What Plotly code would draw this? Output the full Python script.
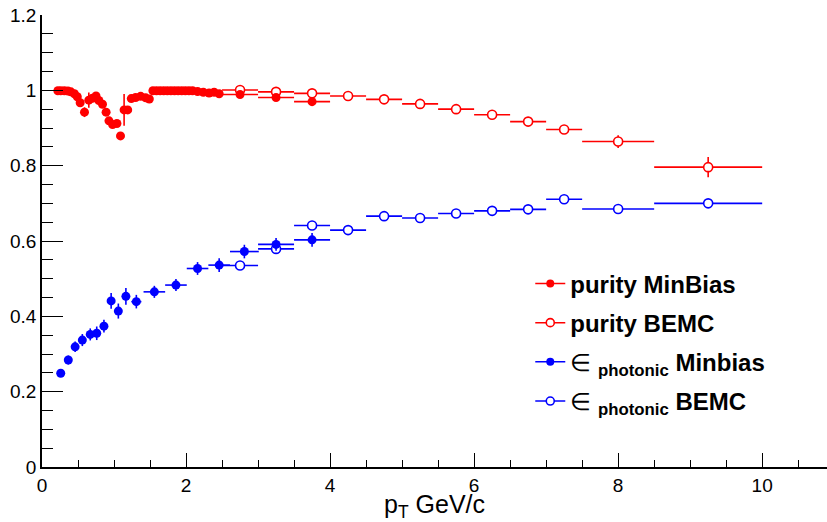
import plotly.graph_objects as go

# ---- purity, MinBias trigger ----
mb_pur_pt = [0.22, 0.26, 0.31, 0.36, 0.40, 0.45, 0.49, 0.53, 0.59, 0.65,
             0.70, 0.75, 0.79, 0.84, 0.89, 0.93, 0.98, 1.04, 1.09, 1.14,
             1.19, 1.24, 1.30, 1.37, 1.44, 1.49, 1.54, 1.59, 1.64, 1.69,
             1.74, 1.79, 1.84, 1.89, 1.94, 1.99, 2.04, 2.09, 2.16, 2.24,
             2.32, 2.39, 2.46, 2.75, 3.25, 3.75]
mb_pur = [0.999, 0.999, 0.999, 0.998, 0.996, 0.991, 0.983, 0.967, 0.942, 0.974,
          0.979, 0.985, 0.973, 0.963, 0.942, 0.919, 0.909, 0.912, 0.879, 0.948,
          0.948, 0.978, 0.981, 0.984, 0.980, 0.977, 0.999, 0.999, 0.999, 0.999,
          0.999, 0.999, 0.999, 0.999, 0.999, 0.999, 0.999, 0.999, 0.997, 0.995,
          0.993, 0.995, 0.991, 0.989, 0.981, 0.970]
mb_pur_err = [0.003, 0.003, 0.003, 0.003, 0.003, 0.003, 0.004, 0.005, 0.013, 0.020,
              0.005, 0.005, 0.005, 0.005, 0.005, 0.005, 0.005, 0.005, 0.006, 0.042,
              0.006, 0.004, 0.004, 0.004, 0.004, 0.004, 0.003, 0.003, 0.003, 0.003,
              0.003, 0.003, 0.003, 0.003, 0.003, 0.003, 0.003, 0.003, 0.003, 0.003,
              0.003, 0.003, 0.003, 0.004, 0.004, 0.005]
mb_pur_xerr = [0.025] * 38 + [0.04] * 5 + [0.25, 0.25, 0.25]

# ---- photonic efficiency, MinBias trigger ----
mb_eff_pt = [0.26, 0.365, 0.46, 0.56, 0.67, 0.76, 0.86, 0.96, 1.06, 1.165,
             1.31, 1.56, 1.86, 2.16, 2.46, 2.81, 3.25, 3.75]
mb_eff = [0.249, 0.284, 0.319, 0.337, 0.352, 0.355, 0.374, 0.441, 0.414, 0.453,
          0.439, 0.465, 0.483, 0.527, 0.536, 0.572, 0.591, 0.603]
mb_eff_err = [0.010, 0.012, 0.014, 0.016, 0.016, 0.018, 0.017, 0.021, 0.020, 0.022,
              0.018, 0.016, 0.016, 0.017, 0.018, 0.018, 0.017, 0.018]
mb_eff_xerr = [0.05, 0.05, 0.05, 0.05, 0.05, 0.05, 0.05, 0.05, 0.05, 0.05,
               0.07, 0.15, 0.15, 0.15, 0.15, 0.2, 0.25, 0.25]

# ---- BEMC trigger (purity and photonic efficiency) ----
bemc_pt = [2.75, 3.25, 3.75, 4.25, 4.75, 5.25, 5.75, 6.25, 6.75, 7.25, 8.0, 9.25]
bemc_xerr = [0.25, 0.25, 0.25, 0.25, 0.25, 0.25, 0.25, 0.25, 0.25, 0.25, 0.5, 0.75]
bemc_pur = [1.001, 0.996, 0.992, 0.985, 0.976, 0.964, 0.950, 0.935, 0.917, 0.896, 0.864, 0.796]
bemc_pur_err = [0.003, 0.003, 0.004, 0.004, 0.004, 0.005, 0.005, 0.005, 0.006, 0.007, 0.017, 0.027]
bemc_eff = [0.535, 0.579, 0.641, 0.629, 0.666, 0.661, 0.673, 0.680, 0.684, 0.711, 0.685, 0.700]
bemc_eff_err = [0.004, 0.005, 0.005, 0.005, 0.005, 0.005, 0.005, 0.005, 0.006, 0.006, 0.005, 0.006]

RED = "#ff0000"
BLUE = "#0000ff"
FONT = "Liberation Sans, Arial, Helvetica, sans-serif"


def err(vals, color):
    return dict(type="data", array=vals, visible=True, color=color, thickness=1.6, width=0)


def filled(color):
    return dict(symbol="circle", size=9, color=color, line=dict(width=0))


def hollow(color):
    return dict(symbol="circle", size=9, color="white", line=dict(color=color, width=1.6))


fig = go.Figure()

series = [
    (bemc_pt, bemc_eff, bemc_eff_err, bemc_xerr, BLUE, hollow),
    (mb_eff_pt, mb_eff, mb_eff_err, mb_eff_xerr, BLUE, filled),
    (bemc_pt, bemc_pur, bemc_pur_err, bemc_xerr, RED, hollow),
    (mb_pur_pt, mb_pur, mb_pur_err, mb_pur_xerr, RED, filled),
]
for x, y, ey, ex, col, mk in series:
    fig.add_trace(go.Scatter(
        x=x, y=y, mode="markers", marker=mk(col),
        error_y=err(ey, col), error_x=err(ex, col),
        showlegend=False, hoverinfo="skip"))

# legend entries (line + marker style)
legend_items = [
    ("<b>purity MinBias</b>", RED, filled),
    ("<b>purity BEMC</b>", RED, hollow),
    ("∈ <sub><b>photonic</b></sub> <b>Minbias</b>", BLUE, filled),
    ("∈ <sub><b>photonic</b></sub> <b>BEMC</b>", BLUE, hollow),
]
for i, (name, col, mk) in enumerate(legend_items):
    m = mk(col)
    m["size"] = 8
    fig.add_trace(go.Scatter(
        x=[None], y=[None], mode="lines+markers", name=name,
        line=dict(color=col, width=1.5), marker=m,
        legendgroup=f"g{i}", showlegend=True))

fig.update_layout(
    width=827, height=522,
    margin=dict(l=42, r=0, t=15, b=55),
    paper_bgcolor="white", plot_bgcolor="white",
    font=dict(family=FONT, color="black"),
    showlegend=True,
    legend=dict(
        x=0.622, y=0.455, xanchor="left", yanchor="top",
        bgcolor="rgba(0,0,0,0)", borderwidth=0,
        font=dict(family=FONT, size=24, color="black"),
        traceorder="grouped", tracegroupgap=5,
        itemwidth=30,
    ),
)

fig.update_xaxes(
    range=[0, 10.9], showgrid=False, zeroline=False,
    showline=True, linecolor="black", linewidth=1.5,
    ticks="inside", ticklen=14, tickwidth=1.2, tickcolor="black",
    dtick=2, tick0=0,
    minor=dict(ticks="inside", ticklen=7, tickwidth=1.2, tickcolor="black", dtick=0.5, showgrid=False),
    tickfont=dict(family=FONT, size=19),
    title=dict(text="p<sub>T</sub> GeV/c", font=dict(family=FONT, size=25), standoff=8),
)
fig.update_yaxes(
    range=[0, 1.2], showgrid=False, zeroline=False,
    showline=True, linecolor="black", linewidth=1.5,
    ticks="inside", ticklen=21, tickwidth=1.2, tickcolor="black",
    dtick=0.2, tick0=0, tickformat="~g",
    minor=dict(ticks="inside", ticklen=11, tickwidth=1.2, tickcolor="black", dtick=0.05, showgrid=False),
    tickfont=dict(family=FONT, size=19),
)

fig.write_html("out.html")
